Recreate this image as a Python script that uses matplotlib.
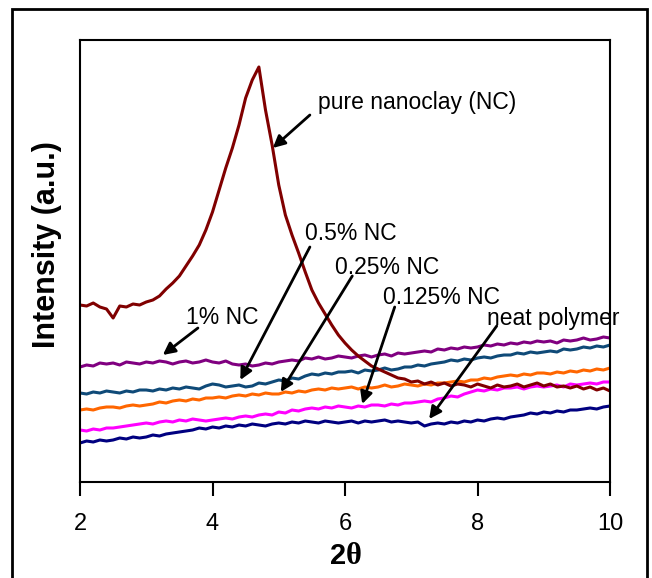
import numpy as np
import matplotlib.pyplot as plt
from matplotlib.patches import Rectangle

plt.rcParams['font.family'] = ['Liberation Sans', 'DejaVu Sans']

# 2theta from 2 to 10 in steps of 0.1
two_theta = np.round(np.arange(2.0, 10.01, 0.1), 1)

pure_nc = [177, 176, 179, 175, 173, 164, 176, 175, 178, 177,
           180, 182, 186, 193, 199, 206, 216, 226, 237, 252,
           270, 292, 314, 334, 357, 384, 402, 415, 372, 337,
           297, 267, 247, 229, 210, 192, 179, 168, 157, 147,
           139, 132, 126, 121, 116, 113, 110, 107, 104, 103,
           100, 101, 98, 100, 97, 99, 96, 98, 97, 95,
           98, 96, 94, 97, 95, 96, 98, 95, 97, 99,
           96, 98, 95, 96, 94, 96, 93, 95, 92, 94,
           91]

nc_1 = [115, 117, 116, 119, 118, 119, 117, 120, 119, 118,
        120, 119, 121, 120, 118, 120, 121, 119, 120, 122,
        120, 119, 121, 118, 117, 118, 116, 117, 119, 118,
        120, 121, 122, 121, 124, 123, 125, 123, 124, 126,
        125, 124, 126, 127, 125, 127, 128, 126, 129, 128,
        129, 130, 131, 130, 133, 132, 134, 133, 135, 134,
        135, 137, 136, 138, 137, 139, 138, 140, 139, 141,
        140, 141, 139, 142, 141, 142, 144, 142, 143, 145,
        144]

nc_05 = [89, 88, 90, 89, 91, 90, 89, 91, 90, 92,
         92, 91, 93, 92, 94, 93, 95, 94, 93, 96,
         98, 97, 95, 96, 97, 95, 96, 99, 98, 100,
         102, 101, 104, 103, 106, 108, 107, 109, 108, 110,
         110, 111, 109, 112, 111, 112, 114, 112, 113, 115,
         115, 117, 116, 118, 119, 120, 122, 121, 123, 122,
         124, 125, 124, 126, 127, 127, 129, 128, 130, 129,
         130, 131, 130, 133, 132, 133, 135, 134, 136, 135,
         137]

nc_025 = [72, 73, 72, 74, 75, 75, 74, 76, 77, 76,
          77, 78, 80, 79, 81, 82, 81, 83, 82, 84,
          84, 85, 84, 86, 87, 86, 88, 87, 89, 88,
          88, 90, 89, 91, 90, 92, 93, 92, 94, 93,
          94, 95, 93, 95, 94, 95, 97, 95, 96, 98,
          97, 96, 98, 97, 99, 99, 100, 101, 100, 102,
          102, 104, 103, 105, 106, 107, 106, 108, 107, 109,
          109, 108, 110, 109, 111, 110, 112, 111, 113, 112,
          114]

nc_0125 = [52, 51, 53, 52, 54, 54, 55, 56, 57, 58,
           59, 58, 60, 61, 60, 62, 61, 63, 62, 61,
           62, 63, 64, 63, 65, 66, 65, 67, 68, 67,
           70, 69, 72, 71, 73, 74, 73, 75, 74, 76,
           75, 74, 76, 75, 77, 77, 76, 78, 77, 79,
           79, 80, 81, 80, 83, 84, 86, 85, 88, 90,
           92, 91, 93, 92, 94, 94, 95, 93, 95, 96,
           95, 96, 97, 95, 98, 97, 98, 99, 98, 100,
           100]

neat = [39, 41, 40, 42, 41, 42, 44, 43, 45, 44,
        45, 47, 46, 48, 49, 50, 51, 52, 54, 53,
        55, 54, 56, 55, 57, 56, 58, 57, 56, 58,
        59, 58, 60, 59, 61, 60, 59, 61, 60, 59,
        60, 61, 59, 61, 60, 61, 62, 60, 61, 60,
        59, 60, 56, 58, 59, 58, 60, 59, 61, 60,
        62, 61, 63, 64, 63, 65, 66, 67, 69, 68,
        70, 69, 71, 70, 72, 72, 73, 74, 73, 75,
        76]

series = [
    (neat, '#000080'),
    (nc_0125, '#FF00FF'),
    (nc_025, '#FF6600'),
    (nc_05, '#0F4A78'),
    (nc_1, '#800080'),
    (pure_nc, '#800000'),
]

# label, text position, arrow tail, arrow head
labels = [
    ('pure nanoclay (NC)', (5.59, 379), (5.47, 367), (4.91, 334)),
    ('0.5% NC', (5.40, 248), (5.47, 235), (4.42, 102)),
    ('0.25% NC', (5.85, 215), (6.11, 206), (5.03, 90)),
    ('0.125% NC', (6.57, 184), (6.75, 175), (6.26, 78)),
    ('neat polymer', (8.14, 164), (8.29, 156), (7.27, 63)),
    ('1% NC', (3.60, 164), (3.78, 154), (3.25, 127)),
]

fig = plt.figure(figsize=(6.52, 5.78), dpi=100)
ax = fig.add_axes([80 / 652, 1 - 482 / 578, 530 / 652, 442 / 578])

for vals, col in series:
    ax.plot(two_theta, vals, color=col, lw=2.2)

for txt, tpos, tail, head in labels:
    ax.text(tpos[0], tpos[1], txt, fontsize=16.5, va='center', ha='left')
    ax.annotate('', xy=head, xytext=tail,
                arrowprops=dict(arrowstyle='-|>', color='black', lw=2,
                                mutation_scale=18, shrinkA=0, shrinkB=0))

ax.set_xlim(2, 10)
ax.set_ylim(0, 442)
ax.set_xticks([2, 4, 6, 8, 10])
ax.set_yticks([])
ax.tick_params(axis='x', direction='out', length=10, width=1.5, labelsize=17, pad=12)
for s in ax.spines.values():
    s.set_linewidth(1.5)

# x label: bold sans "2" followed by a serif theta
fig.text(346 / 652, 1 - 556 / 578, '2', fontsize=21, fontweight='bold',
         ha='right', va='center')
fig.text(346 / 652, 1 - 556 / 578, 'θ', fontsize=22, fontweight='bold',
         family=['Liberation Serif', 'DejaVu Serif'], ha='left', va='center')

ax.set_ylabel('Intensity (a.u.)', fontsize=22, fontweight='bold')
ax.yaxis.set_label_coords(-18 / 530, (482 - 245) / 442)

fig.patches.append(Rectangle((12 / 652, -0.02), 635 / 652, 1.02 - 9 / 578,
                             transform=fig.transFigure, fill=False,
                             edgecolor='black', lw=2))

fig.savefig('out.png', dpi=100)
